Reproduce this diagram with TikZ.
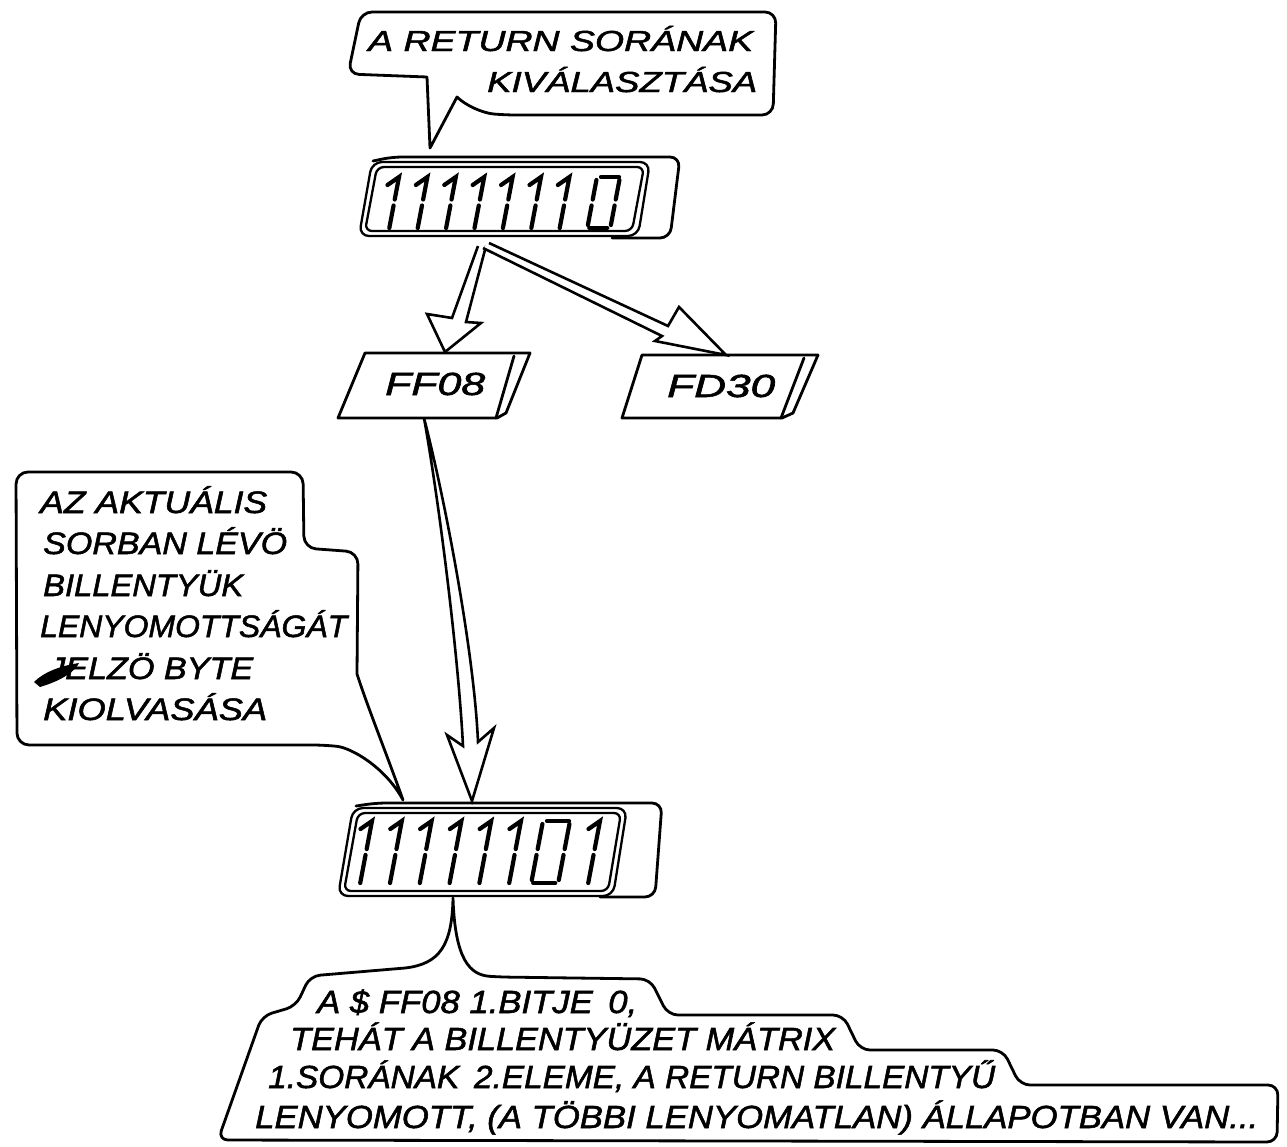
\documentclass[tikz,border=0pt]{standalone}
\usepackage{fontspec}
\setmainfont{Liberation Sans}[ItalicFeatures={FakeBold=1.6}]
\usepackage{graphicx}
\usetikzlibrary{calc}

% set a line of lettering to a given width
\newlength\fitlen
\newcommand\fitto[2]{\settowidth\fitlen{#2}\pgfmathsetmacro\fitr{#1/\fitlen}\scalebox{\fitr}[1]{#2}}

% seven-segment style digits (top-left corner, height, width)
\newcommand\digone[3]{%
  \begin{scope}[shift={(#1,#2)},xslant=0.19]
    \draw[seg] (-2,8) -- (8,0) -- (8,#3/2-3);
    \draw[seg] (8,#3/2+3) -- (8,#3);
  \end{scope}}
\newcommand\digzero[4]{%
  \begin{scope}[shift={(#1,#2)},xslant=0.19]
    \draw[seg] (4,0) -- (#4-1,0);
    \draw[seg] (0,3) -- (0,#3/2-3);
    \draw[seg] (#4,3) -- (#4,#3/2-3);
    \draw[seg] (0,#3/2+3) -- (0,#3-3);
    \draw[seg] (#4,#3/2+3) -- (#4,#3-3);
    \draw[seg] (2,#3) -- (#4-3,#3);
  \end{scope}}

\begin{document}
\begin{tikzpicture}[x=1pt,y=-1pt,
  outl/.style={line width=2.8pt,line join=round,line cap=round},
  frame/.style={line width=2.3pt,line join=round},
  seg/.style={line width=4.2pt,line cap=round},
  hollow/.style={line width=2.6pt,line join=miter,fill=white},
  lbl/.style={inner sep=0pt,anchor=base west},
  topf/.style={font=\fontsize{29}{31}\selectfont\itshape},
  boxf/.style={font=\fontsize{32}{34}\selectfont\itshape},
  midf/.style={font=\fontsize{31}{33}\selectfont\itshape},
  botf/.style={font=\fontsize{32}{34}\selectfont\itshape}]

\fill[white] (0,0) rectangle (1287,1146);
\useasboundingbox (0,0) rectangle (1287,1146);

% ---------- upper callout ----------
\draw[outl] (430,148) -- (427,77)
  [rounded corners=11] -- (348,74) -- (361,12) -- (776,12) -- (773,115) -- (505,115)
  [sharp corners] .. controls (482,113) and (465,105) .. (457,97) -- (430,148);
\node[lbl,topf] (q1) at (368,51) {\fitto{385pt}{A RETURN SORÁNAK}};
\node[lbl,topf] (q2) at (487,92) {\fitto{270pt}{KIVÁLASZTÁSA}};

% ---------- first display: 11111110 ----------
\draw[outl,rounded corners=10] (373,161) -- (392,157) -- (680,157) -- (670,238) -- (612,238);
\draw[frame,rounded corners=10] (372,162) -- (650,162) -- (638,236) -- (359,236) -- cycle;
\draw[frame,rounded corners=7] (377,167) -- (644,167) -- (632,231) -- (365,231) -- cycle;
\foreach \i in {0,...,6} {\digone{391+28.4*\i}{177}{51}}
\digzero{597}{177}{51}{23}
\coordinate (d1b) at (485,244);

% ---------- hollow arrows to the two addresses ----------
\coordinate (ffT) at (445,352);
\coordinate (fdT) at (726,355);
\draw[hollow] (478,246) -- (452,318) -- (427,314) -- (ffT) -- (481,323) -- (466,322) -- (486,246);
\draw[hollow] (489,243) -- (668,326) -- (679,307) -- (fdT) -- (655,341) -- (662,336) -- (483,248);

% ---------- address boxes ----------
\draw[outl] (365,353) -- (530,353) -- (506,413) -- (497,418) -- (338,418) -- cycle;
\draw[outl] (514,356) -- (496,418);
\node[lbl,boxf] (ff08) at (385,395) {\fitto{100pt}{FF08}};
\draw[outl] (642,355) -- (818,355) -- (793,413) -- (782,418) -- (622,418) -- cycle;
\draw[outl] (804,358) -- (781,418);
\node[lbl,boxf] (fd30) at (667,397) {\fitto{108pt}{FD30}};

% ---------- long arrow down to the second display ----------
\coordinate (ffB) at (424,418);
\coordinate (d2T) at (472,801);
\draw[hollow] (ffB) .. controls (438,495) and (458,650) .. (463,746)
  -- (447,735) -- (d2T) -- (494,728) -- (478,742)
  .. controls (474,650) and (444,495) .. (ffB);

% ---------- middle callout ----------
\coordinate (mcT) at (403,800);
\draw[outl] (mcT) .. controls (387,755) and (368,708) .. (357,674)
  [rounded corners=12] -- (358,552) -- (304,548) -- (303,472) -- (16,472) -- (17,745) -- (325,745)
  [sharp corners] .. controls (352,748) and (386,768) .. (mcT);
\node[lbl,midf] (m1) at (40,513) {\fitto{227pt}{AZ AKTUÁLIS}};
\node[lbl,midf] (m2) at (43,554) {\fitto{244pt}{SORBAN LÉVÖ}};
\node[lbl,midf] (m3) at (43,596) {\fitto{200pt}{BILLENTYÜK}};
\node[lbl,midf] (m4) at (40,637) {\fitto{307pt}{LENYOMOTTSÁGÁT}};
\node[lbl,midf] (m5) at (48,679) {\fitto{205pt}{JELZÖ BYTE}};
\node[lbl,midf] (m6) at (43,720) {\fitto{224pt}{KIOLVASÁSA}};
% ink blot over the J
\fill (34,682) .. controls (44,672) and (60,666) .. (79,663) .. controls (75,672) and (60,681) .. (40,687) -- cycle;

% ---------- second display: 11111101 ----------
\draw[outl,rounded corners=10] (356,806) -- (376,803) -- (662,803) -- (655,897) -- (600,897);
\draw[frame,rounded corners=10] (353,808) -- (627,808) -- (613,896) -- (338,896) -- cycle;
\draw[frame,rounded corners=7] (358,813) -- (621,813) -- (608,891) -- (344,891) -- cycle;
\foreach \i in {0,...,5} {\digone{364+29.8*\i}{821}{62}}
\digzero{543}{821}{62}{27}
\digone{592}{821}{62}
\coordinate (d2B) at (453,898);

% ---------- lower callout ----------
\draw[outl] (d2B) .. controls (452,945) and (440,964) .. (405,968)
  [rounded corners=10] -- (310,976) -- (296,1006) -- (262,1016) -- (218,1140) -- (1277,1142)
  -- (1278,1085) -- (1020,1085) -- (1003,1050) -- (860,1050) -- (843,1015) -- (668,1015)
  -- (650,979) -- (500,977)
  [sharp corners] .. controls (470,975) and (455,960) .. (d2B);
\node[lbl,botf] (b1) at (317,1013) {\fitto{320pt}{A \$ FF08 1.BITJE\, 0,}};
\node[lbl,botf] (b2) at (290,1050) {\fitto{545pt}{TEHÁT A BILLENTYÜZET MÁTRIX}};
\node[lbl,botf] (b3) at (268,1088) {\fitto{727pt}{1.SORÁNAK\, 2.ELEME, A RETURN BILLENTYŰ}};
\node[lbl,botf] (b4) at (255,1128) {\fitto{1003pt}{LENYOMOTT, (A TÖBBI LENYOMATLAN) ÁLLAPOTBAN VAN...}};

\end{tikzpicture}
\end{document}
